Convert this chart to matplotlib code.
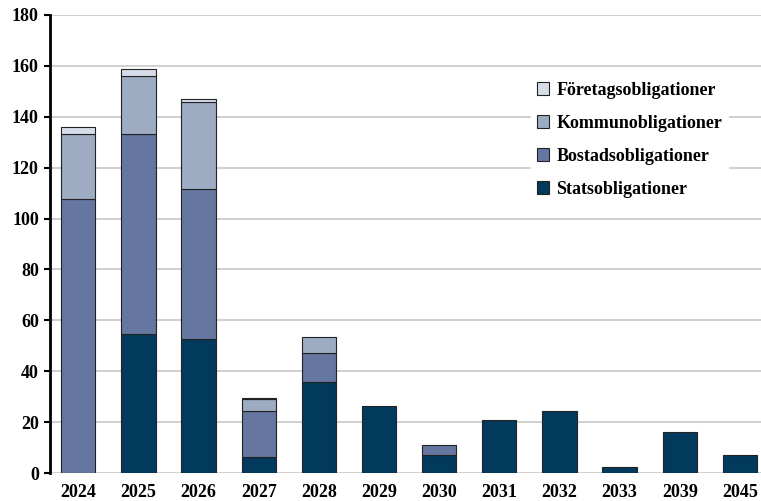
import numpy as np
import matplotlib
matplotlib.use('Agg')
import matplotlib.pyplot as plt

years = ['2024', '2025', '2026', '2027', '2028', '2029', '2030', '2031', '2032', '2033', '2039', '2045']
stats = [0, 54.6, 52.7, 6.3, 35.8, 26.5, 7.0, 21.0, 24.5, 2.5, 16.0, 7.0]
bostad = [107.7, 78.7, 58.9, 18.1, 11.4, 0, 4.0, 0, 0, 0, 0, 0]
kommun = [25.6, 22.7, 34.2, 4.6, 6.3, 0, 0, 0, 0, 0, 0, 0]
foretag = [2.7, 2.8, 1.2, 0.5, 0, 0, 0, 0, 0, 0, 0, 0]

series = [('Statsobligationer', stats, '#023a5e'),
          ('Bostadsobligationer', bostad, '#6577a0'),
          ('Kommunobligationer', kommun, '#9dacc3'),
          ('Företagsobligationer', foretag, '#d6dde9')]

plt.rcParams['font.family'] = ['Liberation Serif', 'DejaVu Serif']
plt.rcParams['font.weight'] = 'bold'

fig = plt.figure(figsize=(7.61, 5.01), dpi=100)
ax = fig.add_axes([50 / 761, 28 / 501, 711 / 761, 458 / 501])

x = np.arange(len(years))
bottom = np.zeros(len(years))
handles = []
for name, vals, col in series:
    vals = np.array(vals)
    mask = vals > 0
    b = ax.bar(x[mask], vals[mask], 0.57, bottom=bottom[mask], color=col,
               edgecolor='#222222', linewidth=0.8, label=name, zorder=3)
    handles.append(b)
    bottom += vals

ax.set_xlim(-0.47, len(years) - 0.65)
ax.set_ylim(0, 180)
ax.set_yticks(range(0, 181, 20))
ax.set_xticks(x)
ax.set_xticklabels(years)
ax.tick_params(axis='both', labelsize=13)
ax.tick_params(axis='x', length=0, pad=8)
ax.tick_params(axis='y', direction='out', length=4, width=1.5, pad=4)
ax.yaxis.grid(True, color='#c8c8c8', linewidth=1.2, zorder=0)
ax.set_axisbelow(True)
for s in ['top', 'right', 'bottom']:
    ax.spines[s].set_visible(False)
ax.spines['left'].set_linewidth(2)

leg = ax.legend(handles[::-1], [s[0] for s in series][::-1], loc='upper left',
                bbox_to_anchor=(0.664, 0.885), frameon=True, fontsize=13,
                handlelength=0.7, handleheight=0.7, handletextpad=0.4,
                labelspacing=0.88, borderpad=0.3)
leg.get_frame().set_edgecolor('white')
leg.get_frame().set_facecolor('white')
leg.get_frame().set_alpha(1)
leg.set_zorder(5)

fig.savefig('out.png', dpi=100)
